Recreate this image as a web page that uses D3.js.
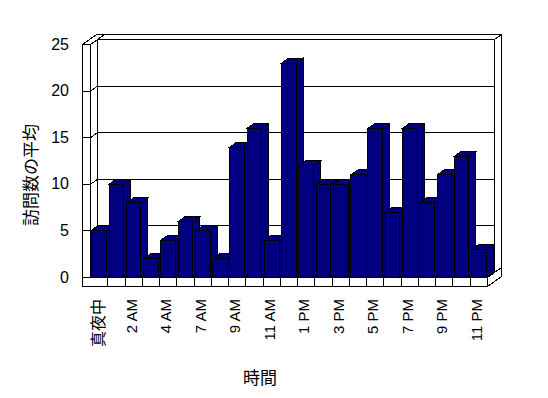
<!DOCTYPE html>
<html>
<head>
<meta charset="utf-8">
<script src="https://cdn.jsdelivr.net/npm/d3@7"></script>
<style>
  body { margin: 0; background: #fff; }
  text { font-family: "Liberation Sans", Arial, sans-serif; fill: #000; }
  .jp { font-family: "Noto Sans CJK JP", sans-serif; }
</style>
</head>
<body>
<script>
// Hours of the day (5 AM has no data)
const categories = ["真夜中", "1 AM", "2 AM", "3 AM", "4 AM", "6 AM", "7 AM", "8 AM", "9 AM", "10 AM", "11 AM", "正午",
    "1 PM", "2 PM", "3 PM", "4 PM", "5 PM", "6 PM", "7 PM", "8 PM", "9 PM", "10 PM", "11 PM"];
// Average visit count per hour
const values = [5, 10, 8, 2, 4, 6, 5, 2, 14, 16, 4, 23, 12, 10, 10, 11, 16, 7, 16, 8, 11, 13, 3];
const yTicks = [0, 5, 10, 15, 20, 25];

const barColour = "#000080";

// Depth offset of the 3D box (one layer)
const DX = 7, DY = -5;

const svg = d3.select("body")
    .append("svg")
    .attr("width", 548)
    .attr("height", 398);

const g = svg.append("g")
    .attr("transform", "translate(0.5, 0.5)")
    .attr("shape-rendering", "crispEdges");

// Scales
const x = d3.scaleBand()
    .domain(d3.range(categories.length))
    .range([90, 487])
    .paddingInner(0.15)
    .paddingOuter(0.075);
const y = d3.scaleLinear()
    .domain([0, 25])
    .range([277, 44]);

const x0 = x.range()[0], x1 = x.range()[1];
const yb = y(0), yt = y(25);
const wallLeft = 82, floorBottom = 286;

function poly(pts, fill) {
    return g.append("polygon")
        .attr("points", pts.map(p => p.join(",")).join(" "))
        .attr("fill", fill)
        .attr("stroke", "#000");
}

// Back wall
poly([[x0 + DX, yt + DY], [x1 + DX, yt + DY], [x1 + DX, yb + DY], [x0 + DX, yb + DY]], "#fff");
poly([[x0 + DX, yt + DY], [x0 + 2 * DX, yt + 2 * DY], [x1 + 2 * DX, yt + 2 * DY], [x1 + DX, yt + DY]], "#fff");
poly([[x1 + DX, yt + DY], [x1 + 2 * DX, yt + 2 * DY], [x1 + 2 * DX, yb + 2 * DY], [x1 + DX, yb + DY]], "#fff");

// Left wall
poly([[wallLeft, yt], [x0, yt], [x0 + 2 * DX, yt + 2 * DY], [wallLeft + 2 * DX, yt + 2 * DY]], "#fff");
poly([[x0, yt], [x0 + DX, yt + DY], [x0 + DX, yb + DY], [x0, yb]], "#fff");
poly([[wallLeft, yt], [x0, yt], [x0, yb], [wallLeft, yb]], "#fff");

// Gridlines: tick on wall front, across the wall side, along the back wall
g.append("g")
    .selectAll("polyline")
    .data(yTicks)
    .join("polyline")
    .attr("points", d => [[wallLeft, y(d)], [x0, y(d)], [x0 + DX, y(d) + DY], [x1 + DX, y(d) + DY]]
        .map(p => p.join(",")).join(" "))
    .attr("fill", "none")
    .attr("stroke", "#000");

// Floor top
poly([[x0, yb], [x1, yb], [x1 + DX, yb + DY], [x0 + DX, yb + DY]], "#fff");

// Bars, drawn left to right so each front hides the previous side
const bw = x.bandwidth();
const bars = g.append("g")
    .selectAll("g")
    .data(values)
    .join("g");
bars.append("polygon")
    .attr("points", (d, i) => [[x(i), y(d)], [x(i) + DX, y(d) + DY], [x(i) + bw + DX, y(d) + DY], [x(i) + bw, y(d)]]
        .map(p => p.join(",")).join(" "))
    .attr("fill", barColour)
    .attr("stroke", "#000");
bars.append("polygon")
    .attr("points", (d, i) => [[x(i) + bw, y(d)], [x(i) + bw + DX, y(d) + DY], [x(i) + bw + DX, yb + DY], [x(i) + bw, yb]]
        .map(p => p.join(",")).join(" "))
    .attr("fill", barColour)
    .attr("stroke", "#000");
bars.append("rect")
    .attr("x", (d, i) => x(i))
    .attr("y", d => y(d))
    .attr("width", bw)
    .attr("height", d => yb - y(d))
    .attr("fill", barColour)
    .attr("stroke", "#000");

// Floor front and right side
poly([[wallLeft, yb], [x1, yb], [x1, floorBottom], [wallLeft, floorBottom]], "#fff");
poly([[x1, yb], [x1 + 2 * DX, yb + 2 * DY], [x1 + 2 * DX, floorBottom + 2 * DY], [x1, floorBottom]], "#fff");

// Category dividers on the floor front
const gap = (x.step() - bw) / 2;
g.append("g")
    .selectAll("line")
    .data(d3.range(1, categories.length))
    .join("line")
    .attr("x1", i => Math.round(x(i) - gap))
    .attr("x2", i => Math.round(x(i) - gap))
    .attr("y1", yb)
    .attr("y2", floorBottom)
    .attr("stroke", "#000");

// Y tick labels
svg.append("g")
    .selectAll("text")
    .data(yTicks)
    .join("text")
    .attr("x", 69)
    .attr("y", d => y(d))
    .attr("text-anchor", "end")
    .attr("dominant-baseline", "central")
    .attr("fill", "#000")
    .style("font-size", "16px")
    .text(d => d);

// X tick labels (every second category)
svg.append("g")
    .selectAll("text")
    .data(categories.map((c, i) => ({ c, i })).filter(d => d.i % 2 === 0))
    .join("text")
    .attr("class", d => /[^\x00-\x7F]/.test(d.c) ? "jp" : null)
    .attr("transform", d => `translate(${x(d.i) + bw / 2 - 2}, 299) rotate(-90)`)
    .attr("text-anchor", "end")
    .attr("dominant-baseline", "central")
    .attr("fill", "#000")
    .style("font-size", d => /[^\x00-\x7F]/.test(d.c) ? "16px" : "15px")
    .text(d => d.c);

// Axis titles
svg.append("text")
    .attr("class", "jp")
    .attr("transform", "translate(29, 175) rotate(-90)")
    .attr("text-anchor", "middle")
    .attr("dominant-baseline", "central")
    .attr("fill", "#000")
    .style("font-size", "17px")
    .text("訪問数の平均");
svg.append("text")
    .attr("class", "jp")
    .attr("x", 260)
    .attr("y", 376)
    .attr("text-anchor", "middle")
    .attr("dominant-baseline", "central")
    .attr("fill", "#000")
    .style("font-size", "17px")
    .text("時間");
</script>
</body>
</html>
